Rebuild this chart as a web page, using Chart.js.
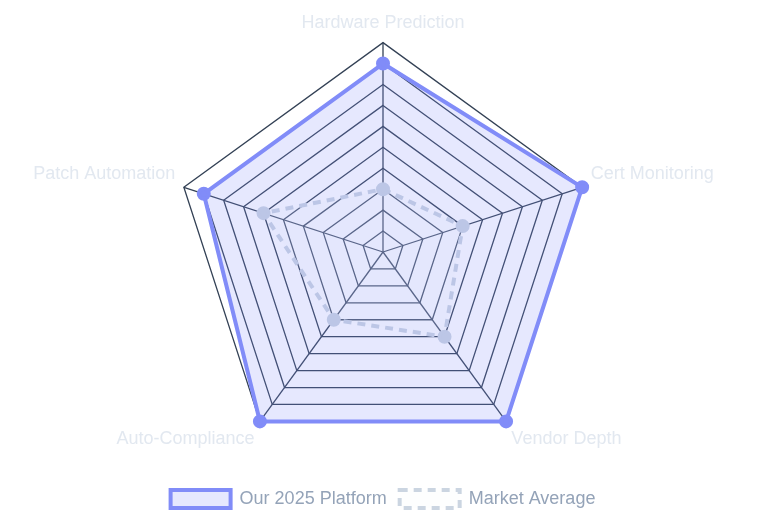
<!DOCTYPE html>
<html lang="en">
<head>
  <meta charset="UTF-8" />
  <title>Platform Radar</title>
  <script src="https://cdn.jsdelivr.net/npm/chart.js"></script>
  <style>
    html, body { margin: 0; padding: 0; background: #ffffff; overflow: hidden; }
    .wrap { width: 766px; height: 528px; margin-top: -3px; }
  </style>
</head>
<body>
  <div class="wrap">
    <canvas id="radarChart"></canvas>
  </div>

  <script>
    // axes and series values (0-10 scale)
    const categories = ['Hardware Prediction', 'Cert Monitoring', 'Vendor Depth', 'Auto-Compliance', 'Patch Automation'];
    const platformScores = [9, 10, 10, 10, 9];
    const marketScores = [3, 4, 5, 4, 6];
    const scaleMax = 10;
    const scaleStep = 1;

    const ctx = document.getElementById('radarChart').getContext('2d');
    new Chart(ctx, {
      type: 'radar',
      data: {
        labels: categories,
        datasets: [
          {
            label: 'Our 2025 Platform',
            data: platformScores,
            borderColor: '#818cf8',
            backgroundColor: 'rgba(129,140,248,0.2)',
            borderWidth: 4,
            pointBackgroundColor: '#818cf8',
            pointBorderColor: '#818cf8',
            pointRadius: 5
          },
          {
            label: 'Market Average',
            data: marketScores,
            borderColor: '#cbd5e1',
            backgroundColor: 'rgba(241,245,249,0.15)',
            borderWidth: 4,
            borderDash: [8, 6],
            pointBackgroundColor: '#cbd5e1',
            pointBorderColor: '#cbd5e1',
            pointRadius: 5
          }
        ]
      },
      options: {
        responsive: true,
        maintainAspectRatio: false,
        animation: false,
        layout: { padding: { bottom: 7 } },
        scales: {
          r: {
            min: 0,
            max: scaleMax,
            ticks: { stepSize: scaleStep, display: false },
            grid: { color: '#334155', lineWidth: 1.3 },
            angleLines: { color: '#334155', lineWidth: 1.3 },
            pointLabels: {
              color: '#e2e8f0',
              padding: 9,
              font: { size: 18 }
            }
          }
        },
        plugins: {
          legend: {
            position: 'bottom',
            labels: {
              color: '#94a3b8',
              boxWidth: 60,
              boxHeight: 18,
              padding: 13,
              font: { size: 18 }
            }
          }
        }
      }
    });
  </script>
</body>
</html>
